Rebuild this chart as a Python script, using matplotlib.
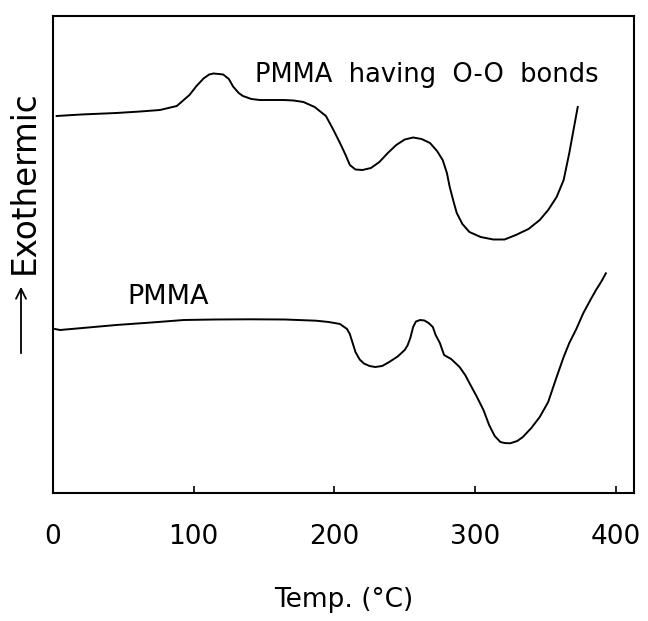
import matplotlib
matplotlib.use('Agg')
import matplotlib.pyplot as plt

# values (temperature in C, signal in arbitrary units)
temp_oo = [2.6, 20, 45, 62, 76, 88, 97, 102, 107, 111, 114, 118, 121, 125, 128, 132, 135, 141, 147,
           156, 164, 171, 178, 186, 194, 199, 204, 208, 211, 215, 220, 226, 232, 238, 244, 250, 256,
           262, 268, 273, 277, 280, 282, 285, 287, 291, 296, 304, 313, 321, 329, 338, 346, 352, 358,
           363, 367, 370, 373]
sig_oo = [377, 378.5, 380, 381.5, 383, 387, 398, 407, 414.5, 418.5, 419.5, 419, 418.5, 414, 406.5,
          400, 397, 394, 393, 393, 393, 392.5, 391, 386, 377, 364, 350, 338, 328, 323.5, 323, 325,
          331, 340, 348, 353.5, 355.5, 354, 350, 342, 333, 320, 306, 290, 280, 269, 261, 256, 253.5,
          253.5, 258, 264, 273, 283, 296, 313, 340, 363, 386]

temp_pm = [1.4, 5, 25, 45, 70, 93, 115, 140, 165, 187, 196, 204, 209, 211, 213, 215, 218, 221, 225,
           229, 234, 239, 245, 250, 252, 254, 256, 258, 261, 264, 267, 270, 272, 275, 278, 283, 289,
           293, 296, 301, 306, 310, 314, 318, 321, 325, 330, 334, 340, 346, 352, 358, 363, 367, 372,
           377, 382, 386, 390, 393]
sig_pm = [164, 163, 165.5, 168, 170.5, 173, 173.5, 173.7, 173.5, 172.3, 171, 169, 164, 159, 150,
          141, 133.5, 129.5, 127, 126, 127, 131, 136.5, 143, 147.5, 155, 166, 171.5, 173, 172.5, 170,
          166, 158, 150, 138, 134, 126, 118, 110, 97, 83, 68, 57, 51, 50, 49.7, 52, 56, 65, 76, 91,
          116, 136, 150, 164, 180, 193, 203, 212, 219.7]

xticks = [0, 100, 200, 300, 400]

fig = plt.figure(figsize=(6.48, 6.21), dpi=100)
ax = fig.add_axes([53/648, 1 - 493/621, (634 - 53)/648, (493 - 16)/621])

ax.plot(temp_oo, sig_oo, color='black', lw=1.4, solid_joinstyle='round')
ax.plot(temp_pm, sig_pm, color='black', lw=1.4, solid_joinstyle='round')

ax.set_xlim(0, 413)
ax.set_ylim(0, 477)
ax.set_xticks(xticks)
ax.set_xticklabels([str(t) for t in xticks], fontsize=19)
ax.tick_params(axis='x', direction='in', length=5, width=1.2, pad=22)
ax.set_yticks([])
for s in ax.spines.values():
    s.set_linewidth(1.5)

ax.set_xlabel('Temp. (°C)', fontsize=19, labelpad=27)

ax.text(143.5, 418, 'PMMA  having  O-O  bonds', fontsize=18.5, va='center', ha='left')
ax.text(53, 196, 'PMMA', fontsize=19.5, va='center', ha='left')

fig.text(24/648, 1 - 182/621, 'Exothermic', rotation=90, fontsize=23.5,
         ha='center', va='center')
ax.annotate('', xy=(21, 621 - 284), xytext=(21, 621 - 356), xycoords='figure pixels',
            textcoords='figure pixels',
            arrowprops=dict(arrowstyle='->', lw=1.3, color='black', mutation_scale=18))

fig.savefig('out.png', dpi=100)
